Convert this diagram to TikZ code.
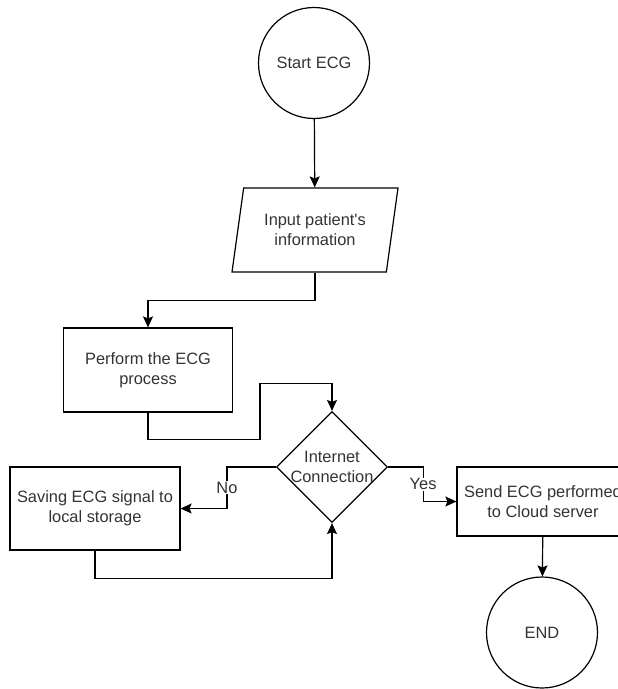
\documentclass[tikz,border=0pt]{standalone}
\usepackage{fontspec}
\setmainfont{Liberation Sans}
\usepackage{xcolor}
\usepackage{tikz}
\usetikzlibrary{arrows.meta,shapes.geometric}
\definecolor{ink}{HTML}{333333}

\begin{document}
\begin{tikzpicture}[x=1pt,y=-1pt,line width=1.2pt,
    every node/.style={font=\fontsize{16.4}{20}\selectfont,text=ink,align=center},
    term/.style={draw,circle,minimum size=111pt,inner sep=0pt},
    box/.style={draw,rectangle,inner sep=0pt},
    io/.style={draw,trapezium,trapezium left angle=70,trapezium right angle=110,
      trapezium stretches body,minimum width=166pt,minimum height=84pt,inner sep=0pt},
    test/.style={draw,diamond,minimum size=111pt,inner sep=0pt},
    flow/.style={-{Stealth[length=11pt,width=10pt,inset=2pt]}},
    lbl/.style={fill=white,inner sep=1pt}]
  \useasboundingbox (0,0) rectangle (618,689);
  \clip (0,0) rectangle (618,689);
  \path
  (314,63) node[term](start) {Start ECG}
  (315,230) node[io](input) {Input patient\textquotesingle s\\information}
  (148,370) node[box,minimum width=169pt,minimum height=84pt](perform) {Perform the ECG\\process}
  (332,467) node[test,label={center:Internet\\Connection}](net) {}
  (95,508.5) node[box,minimum width=170pt,minimum height=83pt](save) {Saving ECG signal to\\local storage}
  (543,501.5) node[box,minimum width=172pt,minimum height=69pt](send) {Send ECG performed\\to Cloud server}
  (542,632.5) node[term](fin) {END}
  ;

  \draw[flow] (start) -- (input);
  \draw[flow] (input.south) -- ++(0,28) -| (perform.north);
  \draw[flow] (perform.south) -- ++(0,27) -| ++(112,-56) -| (net.north);
  \draw[flow] (net.west) -- ++(-49,0) |- node[lbl,pos=0.25] {No} (save.east);
  \draw[flow] (save.south) -- ++(0,28) -| (net.south);
  \draw[flow] (net.east) -- ++(35,0) |- node[lbl,pos=0.25] {Yes} (send.west);
  \draw[flow] (send) -- (fin);
\end{tikzpicture}
\end{document}
